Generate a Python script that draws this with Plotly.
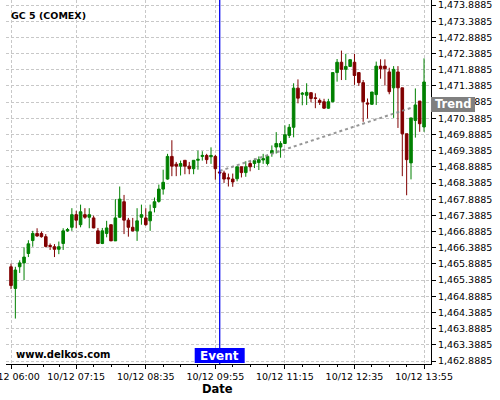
import plotly.graph_objects as go
import pandas as pd

# ---- data ----
start_time = "2012-10-12 06:00"
n_candles = 96
open_ = [1465.80, 1465.13, 1465.80, 1465.92, 1466.21, 1466.61, 1466.83, 1466.83, 1466.73, 1466.46,
         1466.42, 1466.34, 1466.52, 1466.91, 1467.02, 1467.41, 1467.10, 1467.41, 1467.33, 1467.31,
         1466.91, 1466.52, 1466.83, 1467.10, 1466.60, 1467.33, 1467.81, 1467.24, 1467.02, 1466.91,
         1467.33, 1467.31, 1467.22, 1467.63, 1467.82, 1468.20, 1468.51, 1469.21, 1468.97, 1468.91,
         1469.09, 1468.91, 1468.83, 1469.09, 1469.21, 1469.24, 1469.20, 1469.21, 1468.73, 1468.70,
         1468.55, 1468.51, 1468.52, 1468.89, 1468.71, 1468.99, 1468.99, 1469.02, 1469.10, 1468.99,
         1469.31, 1469.50, 1469.50, 1469.61, 1469.86, 1470.11, 1471.32, 1471.13, 1471.10, 1471.18,
         1471.02, 1470.94, 1470.90, 1470.70, 1470.90, 1471.80, 1472.12, 1471.90, 1471.99, 1472.12,
         1471.80, 1471.49, 1470.86, 1470.82, 1471.12, 1472.00, 1472.00, 1471.82, 1471.33, 1471.82,
         1471.33, 1469.91, 1469.01, 1470.32, 1470.92, 1470.12]
high = [1465.90, 1465.80, 1466.00, 1466.40, 1466.62, 1466.91, 1466.99, 1466.89, 1466.81, 1466.52,
        1466.50, 1466.58, 1466.99, 1467.00, 1467.61, 1467.53, 1467.72, 1467.61, 1467.61, 1467.38,
        1467.00, 1467.00, 1467.22, 1467.10, 1467.89, 1468.28, 1468.02, 1467.31, 1467.31, 1467.61,
        1467.72, 1467.61, 1467.72, 1467.94, 1468.34, 1468.80, 1469.29, 1469.71, 1469.04, 1469.08,
        1469.09, 1469.04, 1469.09, 1469.39, 1469.37, 1469.29, 1469.49, 1469.26, 1468.78, 1468.77,
        1468.68, 1468.68, 1468.89, 1468.89, 1469.06, 1469.08, 1469.14, 1469.21, 1469.29, 1469.26,
        1469.55, 1469.96, 1469.68, 1470.17, 1470.21, 1471.47, 1471.59, 1471.20, 1471.47, 1471.18,
        1471.16, 1471.00, 1470.99, 1470.99, 1471.80, 1472.22, 1472.48, 1472.38, 1472.20, 1472.38,
        1471.80, 1471.57, 1471.00, 1471.20, 1472.14, 1472.21, 1472.21, 1471.95, 1472.00, 1472.00,
        1471.33, 1469.91, 1470.40, 1471.31, 1470.92, 1472.24]
low = [1465.11, 1464.20, 1465.61, 1465.39, 1466.10, 1466.42, 1466.73, 1466.70, 1466.40, 1466.32,
       1466.10, 1466.19, 1466.32, 1466.88, 1466.91, 1466.99, 1467.02, 1467.28, 1466.99, 1466.99,
       1466.50, 1466.50, 1466.71, 1466.60, 1466.60, 1467.31, 1466.81, 1466.73, 1466.89, 1466.60,
       1467.10, 1467.07, 1466.91, 1467.48, 1467.78, 1468.03, 1468.49, 1468.60, 1468.60, 1468.62,
       1468.66, 1468.66, 1468.66, 1468.80, 1469.08, 1468.98, 1468.98, 1468.49, 1468.60, 1468.39,
       1468.28, 1468.27, 1468.44, 1468.56, 1468.58, 1468.75, 1468.85, 1468.79, 1468.98, 1468.93,
       1469.20, 1469.30, 1469.17, 1469.59, 1469.78, 1469.80, 1470.85, 1470.79, 1470.80, 1470.88,
       1470.70, 1470.80, 1470.68, 1470.68, 1470.88, 1471.52, 1471.57, 1471.57, 1471.99, 1471.42,
       1471.39, 1470.28, 1470.38, 1470.80, 1470.80, 1471.61, 1471.40, 1471.13, 1470.40, 1470.09,
       1468.60, 1468.01, 1468.50, 1469.79, 1469.97, 1469.97]
close = [1465.22, 1465.70, 1465.92, 1466.10, 1466.51, 1466.83, 1466.75, 1466.73, 1466.43, 1466.43,
         1466.34, 1466.42, 1466.91, 1466.95, 1467.41, 1467.24, 1467.50, 1467.33, 1467.41, 1467.00,
         1466.52, 1466.91, 1467.00, 1466.60, 1467.31, 1467.89, 1467.24, 1467.02, 1466.91, 1467.22,
         1467.41, 1467.10, 1467.50, 1467.81, 1468.20, 1468.41, 1469.21, 1468.91, 1468.91, 1468.99,
         1468.91, 1468.83, 1469.09, 1469.12, 1469.24, 1469.11, 1469.24, 1468.83, 1468.70, 1468.51,
         1468.52, 1468.42, 1468.89, 1468.71, 1468.89, 1468.89, 1469.08, 1469.11, 1469.14, 1469.21,
         1469.39, 1469.61, 1469.61, 1469.88, 1470.11, 1471.32, 1471.01, 1471.16, 1471.19, 1471.00,
         1471.00, 1470.88, 1470.70, 1470.90, 1471.80, 1472.12, 1471.90, 1471.99, 1472.20, 1471.71,
         1471.49, 1470.90, 1470.83, 1471.20, 1472.00, 1471.92, 1471.92, 1471.21, 1471.90, 1471.33,
         1469.91, 1469.11, 1470.40, 1470.80, 1470.22, 1471.51]

major_ticks = ["2012-10-12 06:00", "2012-10-12 07:15", "2012-10-12 08:35", "2012-10-12 09:55",
               "2012-10-12 11:15", "2012-10-12 12:35", "2012-10-12 13:55"]
event_time = "2012-10-12 10:00"
trend_x = ["2012-10-12 10:00", "2012-10-12 13:40"]
trend_y = [1468.76, 1470.71]
trend_label_value = 1470.83
title_text = "GC 5 (COMEX)"
watermark = "www.delkos.com"

times = pd.date_range(start_time, periods=n_candles, freq="5min")

# minor ticks: 4 subdivisions between majors
mt = pd.to_datetime(major_ticks)
minor_ticks = []
for a, b in zip(mt[:-1], mt[1:]):
    step = (b - a) / 4
    for k in range(1, 4):
        minor_ticks.append(a + step * k)

FONT = "DejaVu Sans"
GREEN = "#008000"
RED = "#800000"

fig = go.Figure()

fig.add_trace(go.Scatter(
    x=pd.to_datetime(trend_x), y=trend_y, mode="lines",
    line=dict(color="rgba(140,140,140,0.9)", width=2, dash="dot"),
    hoverinfo="skip", showlegend=False))

fig.add_trace(go.Candlestick(
    x=times, open=open_, high=high, low=low, close=close,
    increasing=dict(line=dict(color=GREEN, width=1), fillcolor=GREEN),
    decreasing=dict(line=dict(color=RED, width=1), fillcolor=RED),
    whiskerwidth=0, showlegend=False))

x0 = pd.Timestamp(start_time) - pd.Timedelta(minutes=5.75)
x1 = pd.Timestamp(start_time) + pd.Timedelta(minutes=483)

grid = dict(showgrid=True, gridcolor="#c8c8c8", gridwidth=1, griddash="3px,2px")

fig.update_layout(
    width=500, height=400,
    margin=dict(l=6, r=69, t=0, b=36, pad=0),
    paper_bgcolor="white", plot_bgcolor="white",
    boxgap=0.15,
    font=dict(family=FONT, size=9.5, color="black"),
    xaxis=dict(
        type="date", range=[x0, x1], rangeslider=dict(visible=False),
        tickmode="array", tickvals=mt, tickformat="%m/%d %H:%M",
        ticklabeloverflow="allow",
        showline=True, linecolor="black", linewidth=1,
        ticks="outside", ticklen=4, tickcolor="black",
        minor=dict(tickmode="array", tickvals=minor_ticks, ticks="outside",
                   ticklen=2, tickcolor="black", showgrid=False),
        zeroline=False, automargin=False,
        tickfont=dict(family=FONT, size=9.5, color="black"),
        **grid),
    yaxis=dict(
        side="right", range=[1462.796, 1474.043],
        tick0=1462.8885, dtick=0.5, tickformat=",.4f",
        ticklabeloverflow="allow",
        showline=True, linecolor="black", linewidth=1,
        ticks="outside", ticklen=4, tickcolor="black",
        zeroline=False, automargin=False,
        tickfont=dict(family=FONT, size=9.5, color="black"),
        **grid),
    shapes=[
        dict(type="line", xref="x", yref="paper", x0=event_time, x1=event_time,
             y0=0, y1=1, line=dict(color="#0000ee", width=1.3), layer="above"),
        dict(type="rect", xref="x", yref="paper", xsizemode="pixel", ysizemode="pixel",
             xanchor=event_time, yanchor=0, x0=-25, x1=25, y0=1, y1=16,
             fillcolor="#0000ff", line=dict(width=0), layer="above"),
        dict(type="rect", xref="paper", yref="y", xsizemode="pixel", ysizemode="pixel",
             xanchor=1, yanchor=trend_label_value, x0=0, x1=44, y0=-8, y1=7,
             fillcolor="#808080", line=dict(width=0), layer="above"),
    ],
    annotations=[
        dict(text="<b>" + title_text + "</b>", xref="paper", yref="paper",
             x=(9 - 6) / 425, y=1 - 15.7 / 364, xanchor="left", yanchor="middle",
             showarrow=False, font=dict(family=FONT, size=9.5, color="black")),
        dict(text="<b>" + watermark + "</b>", xref="paper", yref="paper",
             x=(13.7 - 6) / 425, y=10 / 364, xanchor="left", yanchor="middle",
             showarrow=False, font=dict(family=FONT, size=10, color="black")),
        dict(text="<b>Date</b>", xref="paper", yref="paper",
             x=(217 - 6) / 425, y=-25 / 364, xanchor="center", yanchor="middle",
             showarrow=False, font=dict(family=FONT, size=11.5, color="black")),
        dict(text="<b>Event</b>", xref="x", yref="paper", x=event_time, y=0,
             yshift=8.5, xanchor="center", yanchor="middle", showarrow=False,
             font=dict(family=FONT, size=12, color="white")),
        dict(text="<b>Trend</b>", xref="paper", yref="y", x=1, xshift=22,
             y=trend_label_value, yshift=-0.5, xanchor="center", yanchor="middle",
             showarrow=False, font=dict(family=FONT, size=11.5, color="white")),
    ],
)

fig.write_html("out.html", config={"displayModeBar": False},
               post_script="document.body.style.margin='0px';document.body.style.padding='0px';")
